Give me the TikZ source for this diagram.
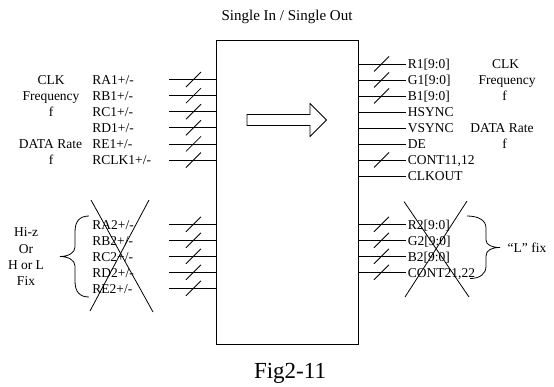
\documentclass[tikz,border=0pt]{standalone}
\usepackage{fontspec}
\setmainfont{Liberation Serif}
\begin{document}
\begin{tikzpicture}[x=1pt,y=-1pt,
  line width=0.8pt,
  lbl/.style={font=\fontsize{13.5}{16}\selectfont, inner sep=1.5pt, text height=9.4pt, text depth=0pt, anchor=west},
  grp/.style={font=\fontsize{13.5}{16}\selectfont, inner sep=0pt, text height=9.4pt, text depth=0pt, anchor=center},
  busmark/.pic={\draw (-7.5,7.5) -- (7.5,-7.5);}]
\useasboundingbox (0,0) rectangle (554,386);
% title and caption
\node[font=\fontsize{15}{18}\selectfont, anchor=base, inner sep=0pt] (title) at (287,20.7) {Single In / Single Out};
\node[font=\fontsize{23}{26}\selectfont, anchor=base, inner sep=0pt] (cap) at (290,378.3) {Fig2-11};
% main box
\node[draw, anchor=north west, minimum width=141.5pt, minimum height=304pt, inner sep=0pt] (box) at (216,40) {};
% arrow inside
\draw (247,114.5) -- (310,114.5) -- (310,103.5) -- (326.5,120) -- (310,136.5) -- (310,125.5) -- (247,125.5) -- cycle;

% ---- left inputs (group 1)
\node[lbl] (ra1) at (90.5,79.5) {RA1+/-};
\node[lbl] (rb1) at (90.5,95.6) {RB1+/-};
\node[lbl] (rc1) at (90.5,111.7) {RC1+/-};
\node[lbl] (rd1) at (90.5,127.8) {RD1+/-};
\node[lbl] (re1) at (90.5,143.9) {RE1+/-};
\node[lbl] (rclk1) at (90.5,160) {RCLK1+/-};
\foreach \n/\y in {ia1/79.5,ib1/95.6,ic1/111.7,id1/127.8,ie1/143.9,iclk1/160}{
  \coordinate (\n) at (169,\y);
  \draw (\n) -- (\n -| box.west);
  \pic at (193.5,\y) {busmark};
}
\node[grp] (lclk) at (51,79.5) {CLK};
\node[grp] (lfreq) at (51,95.6) {Frequency};
\node[grp] (lf1) at (51,111.7) {f};
\node[grp] (ldr) at (50.5,143.9) {DATA Rate};
\node[grp] (lf2) at (51,160) {f};

% ---- left inputs (group 2)
\node[lbl] (ra2) at (90.5,224.3) {RA2+/-};
\node[lbl] (rb2) at (90.5,240.3) {RB2+/-};
\node[lbl] (rc2) at (90.5,256.3) {RC2+/-};
\node[lbl] (rd2) at (90.5,272.3) {RD2+/-};
\node[lbl] (re2) at (90.5,288.3) {RE2+/-};
\foreach \n/\y in {ia2/224.3,ib2/240.3,ic2/256.3,id2/272.3,ie2/288.3}{
  \coordinate (\n) at (169,\y);
  \draw (\n) -- (\n -| box.west);
  \pic at (193.5,\y) {busmark};
}
\draw (91,200) -- (153,312);
\draw (149,200) -- (90,311);
\draw (89,216) .. controls (79,216) and (75,222) .. (75,232) -- (75,247)
  .. controls (75,253) and (68,256.5) .. (60,256.5)
  .. controls (68,256.5) and (75,260) .. (75,266) -- (75,281)
  .. controls (75,291) and (79,297) .. (89,297);
\node[grp] (hiz) at (26,232) {Hi-z};
\node[grp] (or) at (26,248.5) {Or};
\node[grp] (hol) at (26,264.5) {H or L};
\node[grp] (fix) at (26,281) {Fix};

% ---- right outputs (group 1)
\node[lbl] (r1) at (406,64) {R1[9:0]};
\node[lbl] (g1) at (406,80) {G1[9:0]};
\node[lbl] (b1) at (406,96) {B1[9:0]};
\node[lbl] (hs) at (406,112) {HSYNC};
\node[lbl] (vs) at (406,128) {VSYNC};
\node[lbl] (de) at (406,144) {DE};
\node[lbl] (c1) at (406,160) {CONT11,12};
\node[lbl] (ck) at (406,176) {CLKOUT};
\foreach \n in {r1,g1,b1,hs,vs,de,c1,ck}{
  \draw (box.east |- \n.west) -- (\n.west);
}
\foreach \y in {64,80,96,160}{
  \pic at (381.5,\y) {busmark};
}
\node[grp] (rclk) at (505.5,64) {CLK};
\node[grp] (rfreq) at (507,80) {Frequency};
\node[grp] (rf1) at (504.5,96) {f};
\node[grp] (rdr) at (502,128) {DATA Rate};
\node[grp] (rf2) at (504.5,144) {f};

% ---- right outputs (group 2)
\node[lbl] (r2) at (406,224.3) {R2[9:0]};
\node[lbl] (g2) at (406,240.3) {G2[9:0]};
\node[lbl] (b2) at (406,256.3) {B2[9:0]};
\node[lbl] (c2) at (406,272.3) {CONT21,22};
\foreach \n in {r2,g2,b2,c2}{
  \draw (box.east |- \n.west) -- (\n.west);
}
\foreach \y in {224.3,240.3,256.3,272.3}{
  \pic at (381.5,\y) {busmark};
}
\draw (404,201.5) -- (469,297);
\draw (467,201) -- (405,297);
\draw (467,216) .. controls (478,216) and (486,220) .. (486,228) -- (486,240)
  .. controls (486,245) and (492,247.5) .. (500,247.5)
  .. controls (492,247.5) and (486,250) .. (486,256) -- (486,266)
  .. controls (486,274) and (480,278.5) .. (470,278.5);
\node[grp] (lfix) at (527,248) {“L” fix};
\end{tikzpicture}
\end{document}
